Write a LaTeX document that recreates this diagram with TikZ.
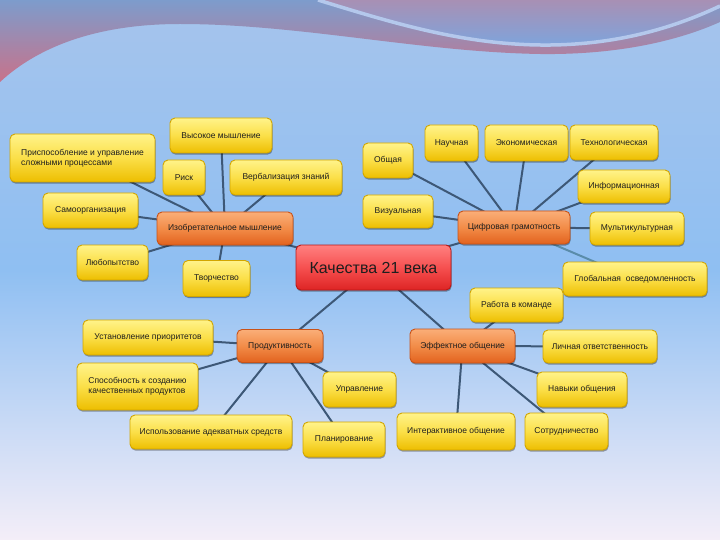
\documentclass[tikz,border=0pt]{standalone}
\usepackage{fontspec}
\setmainfont{Liberation Sans}
\usetikzlibrary{shadows}
\pgfdeclarelayer{back}
\pgfdeclarelayer{lines}
\pgfsetlayers{back,lines,main}
\definecolor{bgA}{HTML}{A6C4EC}
\definecolor{bgB}{HTML}{8FBFF2}
\definecolor{bgC}{HTML}{F4EEF8}
\definecolor{bandT}{HTML}{7D9CCC}
\definecolor{bandB}{HTML}{C8728A}
\definecolor{innT}{HTML}{A890B4}
\definecolor{innB}{HTML}{7EA4DC}
\definecolor{stripe}{HTML}{B4C8EC}
\definecolor{ytop}{HTML}{FFF38A}
\definecolor{ymid}{HTML}{FBDF48}
\definecolor{ybot}{HTML}{EDBE00}
\definecolor{ydraw}{HTML}{D2A600}
\definecolor{otop}{HTML}{FAAE78}
\definecolor{omid}{HTML}{F28C48}
\definecolor{obot}{HTML}{E2621E}
\definecolor{odraw}{HTML}{C85218}
\definecolor{rtop}{HTML}{FF8080}
\definecolor{rmid}{HTML}{F65050}
\definecolor{rbot}{HTML}{DE2424}
\definecolor{rdraw}{HTML}{B81818}
\definecolor{txt}{HTML}{1E1E1E}
\definecolor{lineC}{HTML}{3D5877}
\definecolor{lineL}{HTML}{5A8CAA}
\begin{document}
\begin{tikzpicture}[x=1pt,y=-1pt,
  sz/.style 2 args={minimum width=#1pt, minimum height=#2pt},
  box/.style={rounded corners=5pt, line width=0.9pt, text=txt, inner sep=2pt, align=center,
    font=\fontsize{8.5}{10}\selectfont,
    drop shadow={shadow xshift=0.6pt, shadow yshift=-1.6pt, opacity=0.35, fill=black}},
  ybox/.style={box, draw=ydraw, top color=ytop, bottom color=ybot, middle color=ymid},
  obox/.style={box, draw=odraw, top color=otop, bottom color=obot, middle color=omid},
  rbox/.style={box, draw=rdraw, top color=rtop, bottom color=rbot, middle color=rmid,
    font=\fontsize{16}{18}\selectfont},
  conn/.style={draw=lineC, line width=2pt}]
\useasboundingbox (0,0) rectangle (720,540);
\begin{pgfonlayer}{back}
  \shade[top color=bgA, bottom color=bgB] (0,0) rectangle (720,270);
  \shade[top color=bgB, bottom color=bgC] (0,270) rectangle (720,540);
  \shade[top color=bandT, bottom color=bandB] (0,0) -- (0,82) .. controls (40,45) and (100,24) .. (180,24)
     .. controls (300,24) and (420,52) .. (540,54) .. controls (620,55) and (680,40) .. (720,22) -- (720,0) -- cycle;
  \shade[top color=innT, bottom color=innB] (318,0) .. controls (390,22) and (460,44) .. (540,45)
     .. controls (620,46) and (680,25) .. (720,6) -- (720,0) -- cycle;
  \draw[stripe, line width=3.5pt] (318,0) .. controls (390,22) and (460,44) .. (540,45)
     .. controls (620,46) and (680,25) .. (720,6);
\end{pgfonlayer}

% hubs
\node[rbox, sz={155}{45}] (c) at (373.5,267.5) {Качества 21 века};
\node[obox, sz={136}{33}] (izo) at (225,228.5) {Изобретательное мышление};
\node[obox, sz={112}{33}] (cif) at (514,227.5) {Цифровая грамотность};
\node[obox, sz={86}{33}] (pro) at (280,346) {Продуктивность};
\node[obox, sz={105}{34}] (eff) at (462.5,346) {Эффектное общение};

% Изобретательное мышление
\node[ybox, sz={102}{35}] (vys) at (221,135.5) {Высокое мышление};
\node[ybox, sz={145}{48}, align=left] (pri) at (82.5,158) {Приспособление и управление\\ сложными процессами};
\node[ybox, sz={42}{35}] (ris) at (184,177.5) {Риск};
\node[ybox, sz={112}{35}] (ver) at (286,177.5) {Вербализация знаний};
\node[ybox, sz={95}{35}] (sam) at (90.5,210.5) {Самоорганизация};
\node[ybox, sz={71}{35}] (lub) at (112.5,262.5) {Любопытство};
\node[ybox, sz={67}{36}] (tvo) at (216.5,278.5) {Творчество};

% Цифровая грамотность
\node[ybox, sz={50}{35}] (obs) at (388,160.5) {Общая};
\node[ybox, sz={53}{36}] (nau) at (451.5,143) {Научная};
\node[ybox, sz={83}{36}] (eko) at (526.5,143) {Экономическая};
\node[ybox, sz={88}{35}] (teh) at (614,142.5) {Технологическая};
\node[ybox, sz={92}{33}] (inf) at (624,186.5) {Информационная};
\node[ybox, sz={70}{33}] (viz) at (398,211.5) {Визуальная};
\node[ybox, sz={94}{33}] (mul) at (637,228.5) {Мультикультурная};
\node[ybox, sz={144}{34}] (glo) at (635,279) {Глобальная\ \ осведомленность};

% Эффектное общение
\node[ybox, sz={93}{34}] (rab) at (516.5,305) {Работа в команде};
\node[ybox, sz={114}{33}] (lic) at (600,346.5) {Личная ответственность};
\node[ybox, sz={90}{35}] (nav) at (582,389.5) {Навыки общения};
\node[ybox, sz={118}{37}] (int) at (456,431.5) {Интерактивное общение};
\node[ybox, sz={83}{37}] (sot) at (566.5,431.5) {Сотрудничество};

% Продуктивность
\node[ybox, sz={130}{35}] (ust) at (148,337.5) {Установление приоритетов};
\node[ybox, sz={121}{47}, align=left] (spo) at (137.5,386.5) {Способность к созданию\\качественных продуктов};
\node[ybox, sz={162}{34}] (isp) at (211,432) {Использование адекватных средств};
\node[ybox, sz={73}{35}] (upr) at (359.5,389.5) {Управление};
\node[ybox, sz={82}{35}] (pla) at (344,439.5) {Планирование};

\begin{pgfonlayer}{lines}
  \foreach \a/\b in {c/izo, c/cif, c/pro, c/eff,
     izo/vys, izo/pri, izo/ris, izo/ver, izo/sam, izo/lub, izo/tvo,
     cif/obs, cif/nau, cif/eko, cif/teh, cif/inf, cif/viz, cif/mul,
     eff/rab, eff/lic, eff/nav, eff/int, eff/sot,
     pro/ust, pro/spo, pro/isp, pro/upr, pro/pla}
    \draw[conn] (\a.center) -- (\b.center);
  \draw[conn, draw=lineL] (cif.center) -- (glo.center);
\end{pgfonlayer}
\end{tikzpicture}
\end{document}
